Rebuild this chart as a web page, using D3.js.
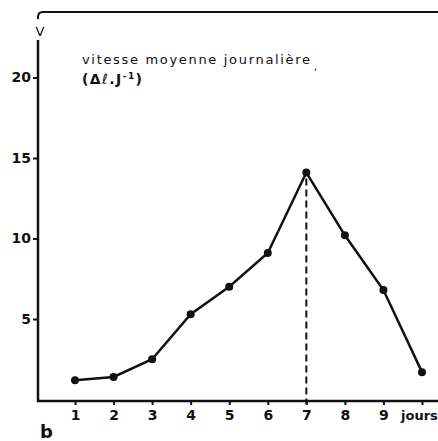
<!DOCTYPE html>
<html>
<head>
<meta charset="utf-8">
<script src="https://cdn.jsdelivr.net/npm/d3@7"></script>
<style>
  body { margin: 0; background: #fff; overflow: hidden; }
  text { font-family: "DejaVu Sans", sans-serif; fill: #111; }
</style>
</head>
<body>
<script>
// Data.
var days = [1, 2, 3, 4, 5, 6, 7, 8, 9, 10],
  speeds = [1.2, 1.4, 2.5, 5.3, 7.0, 9.1, 14.1, 10.2, 6.8, 1.7],
  xTicks = [1, 2, 3, 4, 5, 6, 7, 8, 9],
  yTicks = [5, 10, 15, 20],
  peakDay = 7;

var width = 438,
  height = 441,
  axisX = 38,
  axisY = 401,
  frameTop = 12;

var svg = d3.select("body").append("svg")
    .attr("width", width)
    .attr("height", height)
    .style("display", "block");

var x = d3.scaleLinear().domain([1, 10]).range([75, 422]),
  y = d3.scaleLinear().domain([0, 20]).range([399.5, 77.5]);

var ink = "#111",
  tickFont = '"DejaVu Sans", sans-serif';

// Frame: top line with rounded corner and the left axis, broken by "V".
svg.append("path")
    .attr("d", "M" + axisX + "," + (frameTop + 7) + " L" + axisX + "," + (frameTop + 5)
      + " Q" + axisX + "," + frameTop + " " + (axisX + 5) + "," + frameTop + " L" + width + "," + frameTop)
    .attr("fill", "none")
    .attr("stroke", ink)
    .attr("stroke-width", 2);

svg.append("line")
    .attr("x1", axisX).attr("x2", axisX)
    .attr("y1", 40).attr("y2", axisY + 1)
    .attr("stroke", ink)
    .attr("stroke-width", 2.5);

svg.append("text")
    .attr("x", axisX + 2)
    .attr("y", 36)
    .attr("text-anchor", "middle")
    .style("font-size", "13px")
    .text("V");

// Bottom axis.
svg.append("line")
    .attr("x1", axisX - 1).attr("x2", width)
    .attr("y1", axisY).attr("y2", axisY)
    .attr("stroke", ink)
    .attr("stroke-width", 2.5);

var xAxis = svg.append("g")
    .attr("transform", "translate(0," + axisY + ")")
    .call(d3.axisBottom(x).tickValues(xTicks.concat([10])).tickSize(4).tickPadding(5)
      .tickFormat(function(d) { return d === 10 ? "" : d; }));
xAxis.select(".domain").remove();
xAxis.selectAll(".tick line").attr("stroke", ink).attr("stroke-width", 2);
xAxis.selectAll(".tick text")
    .style("font-family", tickFont)
    .style("font-size", "14px")
    .style("font-weight", "bold")
    .attr("fill", ink);

svg.append("text")
    .attr("x", 401)
    .attr("y", 420)
    .style("font-size", "13px")
    .style("font-weight", "bold")
    .text("jours");

// Left axis ticks.
var yAxis = svg.append("g")
    .attr("transform", "translate(" + axisX + ",0)")
    .call(d3.axisLeft(y).tickValues(yTicks).tickSize(5).tickPadding(2));
yAxis.select(".domain").remove();
yAxis.selectAll(".tick line").attr("stroke", ink).attr("stroke-width", 2);
yAxis.selectAll(".tick text")
    .style("font-family", tickFont)
    .style("font-size", "14px")
    .style("font-weight", "bold")
    .attr("fill", ink);

// Dashed marker under the peak.
svg.append("line")
    .attr("x1", x(peakDay)).attr("x2", x(peakDay))
    .attr("y1", y(speeds[days.indexOf(peakDay)]) + 6)
    .attr("y2", axisY + 3)
    .attr("stroke", ink)
    .attr("stroke-width", 2)
    .attr("stroke-dasharray", "7,4");

// Series line and points.
var points = days.map(function(d, i) { return [d, speeds[i]]; });

svg.append("path")
    .datum(points)
    .attr("d", d3.line()
      .x(function(d) { return x(d[0]); })
      .y(function(d) { return y(d[1]); }))
    .attr("fill", "none")
    .attr("stroke", ink)
    .attr("stroke-width", 2.5);

svg.selectAll(".dot")
    .data(points)
  .enter().append("circle")
    .attr("class", "dot")
    .attr("cx", function(d) { return x(d[0]); })
    .attr("cy", function(d) { return y(d[1]); })
    .attr("r", 4)
    .attr("fill", ink);

// Caption.
svg.append("text")
    .attr("x", 82)
    .attr("y", 64)
    .attr("textLength", 228)
    .style("font-size", "13px")
    .text("vitesse moyenne journalière");

svg.append("text")
    .attr("x", 314)
    .attr("y", 70)
    .style("font-size", "10px")
    .text(",");

var unit = svg.append("text")
    .attr("x", 82)
    .attr("y", 84)
    .attr("textLength", 60)
    .style("font-size", "14px")
    .style("font-weight", "bold");
unit.append("tspan").text("(Δ");
unit.append("tspan").style("font-style", "normal").style("font-weight", "normal").text("ℓ");
unit.append("tspan").text(".J");
unit.append("tspan").attr("dy", -5).style("font-size", "9px").text("-1");
unit.append("tspan").attr("dy", 5).text(")");

svg.append("text")
    .attr("x", 40)
    .attr("y", 438)
    .style("font-size", "18px")
    .style("font-weight", "bold")
    .text("b");
</script>
</body>
</html>
